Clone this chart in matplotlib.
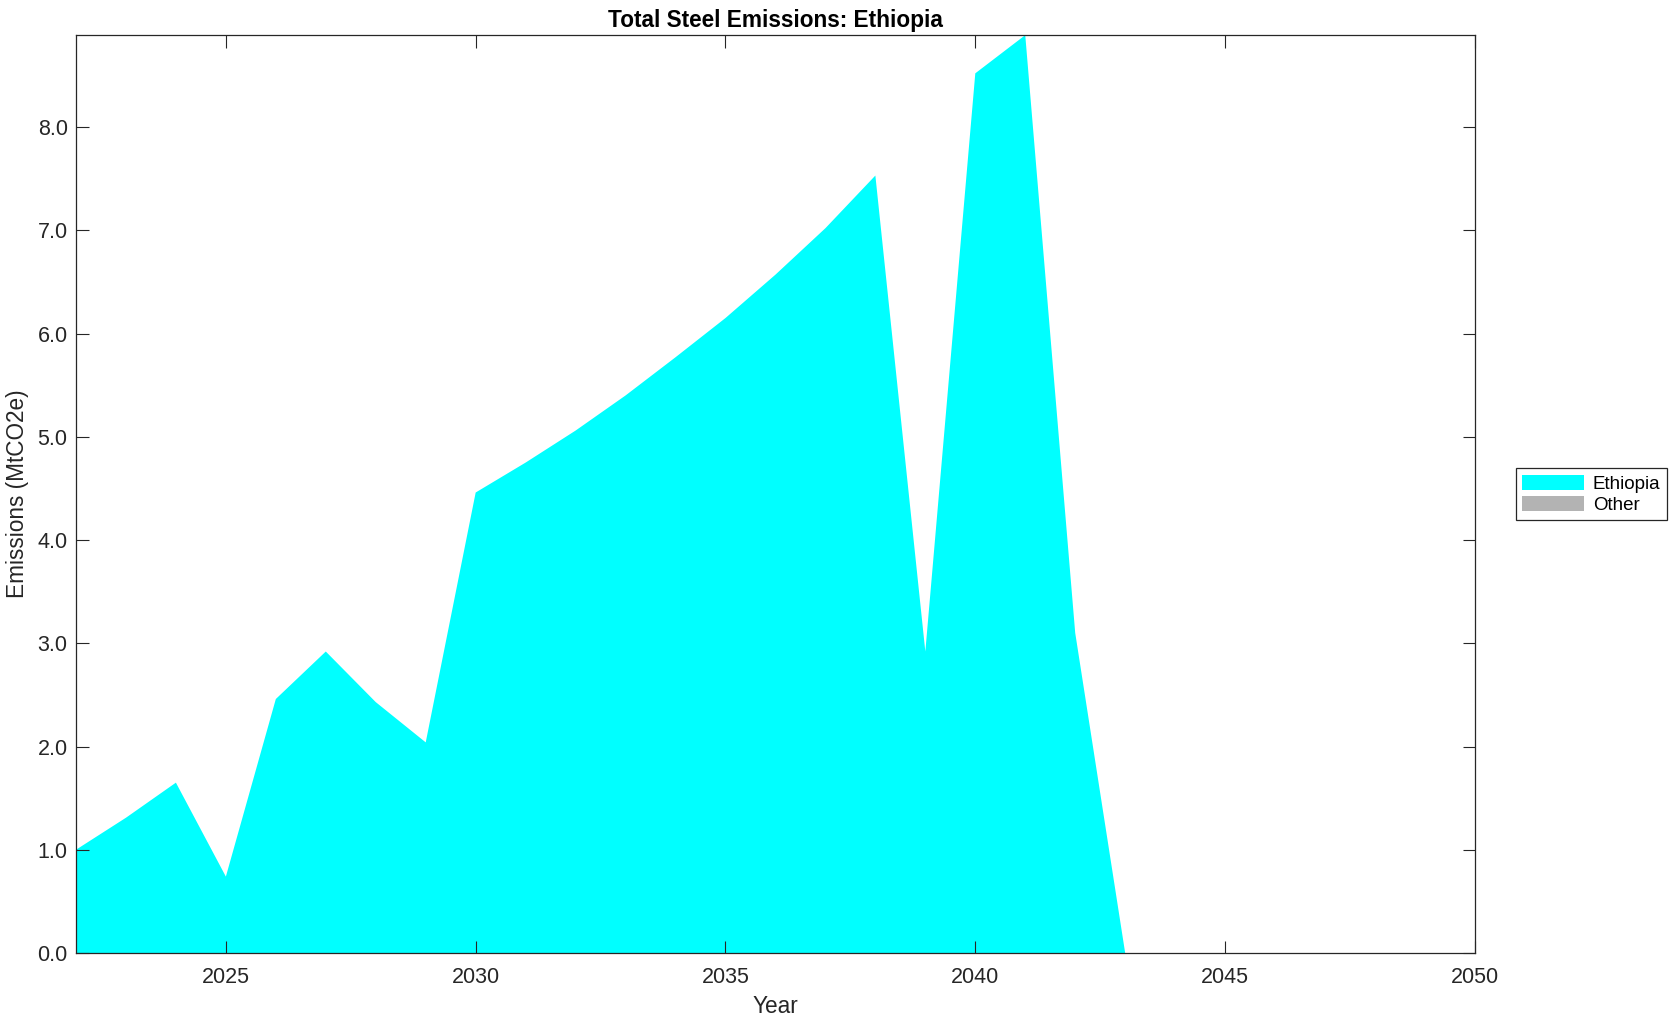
import numpy as np
import matplotlib.pyplot as plt

plt.rcParams['font.family'] = ['Liberation Sans', 'DejaVu Sans']

# data
years = list(range(2022, 2051))
ethiopia = [1.00, 1.31, 1.65, 0.74, 2.46, 2.92, 2.43, 2.04, 4.46, 4.75,
            5.06, 5.40, 5.77, 6.15, 6.57, 7.02, 7.53, 2.92, 8.52, 8.89,
            3.10, 0.0, 0.0, 0.0, 0.0, 0.0, 0.0, 0.0, 0.0]
other = [0.0] * len(years)

dark = '#262626'

fig = plt.figure(figsize=(16.81, 10.21), dpi=100)
ax = fig.add_axes([0.0452, 0.0666, 0.8322, 0.899])

ax.stackplot(years, ethiopia, other, colors=['#00ffff', '#b3b3b3'],
             labels=['Ethiopia', 'Other'], linewidth=0)

ax.set_xlim(2022, 2050)
ax.set_ylim(0, max(ethiopia))
ax.set_xticks([2025, 2030, 2035, 2040, 2045, 2050])
ax.set_yticks(np.arange(0, 9, 1.0))
ax.yaxis.set_major_formatter(plt.FormatStrFormatter('%.1f'))

ax.tick_params(direction='in', length=9, width=0.8, top=True, right=True,
               labelsize=15.5, colors=dark)
ax.tick_params(axis='x', pad=10)
ax.tick_params(axis='y', pad=6)
for s in ax.spines.values():
    s.set_color(dark)
    s.set_linewidth(0.9)

ax.set_title('Total Steel Emissions: Ethiopia', fontsize=16.3, fontweight='bold', pad=6)
ax.set_xlabel('Year', fontsize=16.3, color=dark, labelpad=5)
ax.set_ylabel('Emissions (MtCO2e)', fontsize=16.3, color=dark, labelpad=6)

leg = fig.legend(loc='center left', bbox_to_anchor=(0.9018, 0.516),
                 bbox_transform=fig.transFigure, fontsize=13.5, fancybox=False,
                 edgecolor=dark, framealpha=1, handlelength=3.3, handleheight=0.9,
                 borderpad=0.35, labelspacing=0.15, handletextpad=0.45, borderaxespad=0)
leg.get_frame().set_linewidth(0.9)

fig.savefig('out.png', dpi=100)
